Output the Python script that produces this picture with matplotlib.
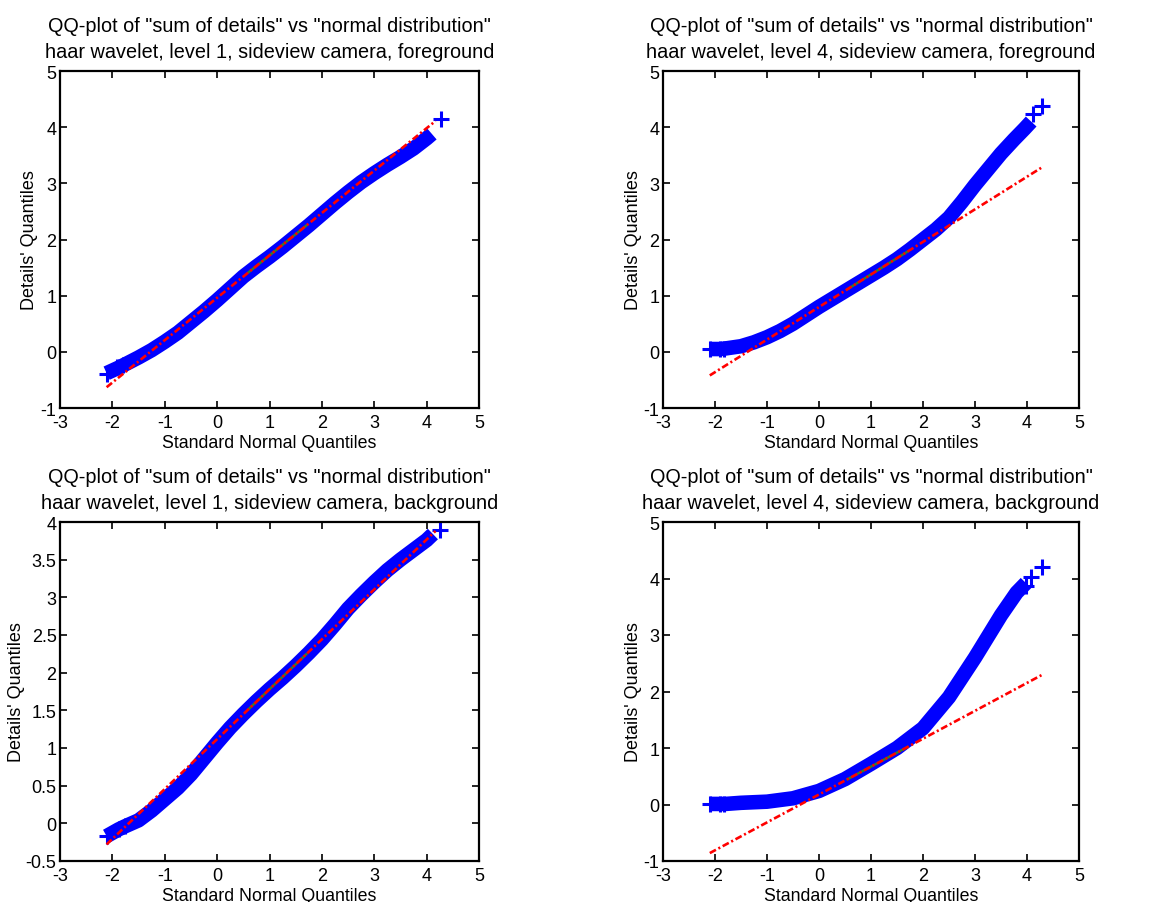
import matplotlib
matplotlib.use("Agg")
import matplotlib.pyplot as plt

plt.rcParams['font.family'] = ['Liberation Sans', 'DejaVu Sans']
plt.rcParams['lines.scale_dashes'] = False

# ---- data ----
# panel A: level 1, foreground
a_x = [-2.11, -1.9, -1.75, -1.5, -1.25, -1.0, -0.75, -0.5, -0.25, 0.0, 0.25, 0.5, 0.75, 1.0,
       1.25, 1.5, 1.75, 2.0, 2.25, 2.5, 2.75, 3.0, 3.25, 3.5, 3.75, 4.0, 4.1]
a_y = [-0.38, -0.29, -0.22, -0.1, 0.03, 0.18, 0.34, 0.53, 0.72, 0.92, 1.13, 1.34, 1.52, 1.69,
       1.87, 2.06, 2.25, 2.45, 2.65, 2.84, 3.02, 3.18, 3.33, 3.47, 3.62, 3.8, 3.88]
a_px = [-2.11, -1.92, -1.79, 4.27]
a_py = [-0.39, -0.27, -0.24, 4.14]
a_line_x = [-2.11, 4.17]
a_line_y = [-0.63, 4.11]
a_q_x = [0.6, 1.7]

# panel B: level 4, foreground
b_x = [-2.1, -1.9, -1.8, -1.5, -1.25, -1.0, -0.75, -0.5, -0.25, 0.0, 0.25, 0.5, 0.75, 1.0,
       1.25, 1.5, 1.75, 2.0, 2.25, 2.5, 2.75, 3.0, 3.25, 3.5, 3.75, 3.95, 4.08]
b_y = [0.05, 0.05, 0.06, 0.1, 0.17, 0.26, 0.37, 0.5, 0.65, 0.8, 0.94, 1.08, 1.22, 1.36,
       1.5, 1.65, 1.82, 2.0, 2.18, 2.39, 2.67, 2.97, 3.25, 3.53, 3.78, 3.97, 4.1]
b_px = [-2.1, -1.91, -1.83, 4.12, 4.28]
b_py = [0.05, 0.05, 0.05, 4.23, 4.38]
b_line_x = [-2.1, 4.28]
b_line_y = [-0.42, 3.28]
b_q_x = [0.55, 1.7]

# panel C: level 1, background
c_x = [-2.11, -1.88, -1.76, -1.5, -1.25, -1.0, -0.75, -0.5, -0.25, 0.0, 0.25, 0.5, 0.75, 1.0,
       1.25, 1.5, 1.75, 2.0, 2.25, 2.5, 2.75, 3.0, 3.25, 3.5, 3.75, 4.0, 4.12]
c_y = [-0.17, -0.08, -0.04, 0.04, 0.17, 0.32, 0.47, 0.65, 0.86, 1.07, 1.27, 1.45, 1.62, 1.78,
       1.93, 2.09, 2.26, 2.44, 2.64, 2.85, 3.03, 3.2, 3.36, 3.5, 3.63, 3.76, 3.84]
c_px = [-2.11, -1.88, -1.76, 4.25]
c_py = [-0.17, -0.08, -0.04, 3.9]
c_line_x = [-2.11, 4.17]
c_line_y = [-0.28, 3.88]
c_q_x = [0.6, 1.7]

# panel D: level 4, background
d_x = [-2.1, -1.9, -1.8, -1.5, -1.0, -0.5, 0.0, 0.5, 1.0, 1.5, 2.0, 2.5, 3.0, 3.5, 3.8, 3.98]
d_y = [0.01, 0.01, 0.01, 0.03, 0.05, 0.11, 0.24, 0.45, 0.72, 1.0, 1.35, 1.9, 2.6, 3.35, 3.75, 3.92]
d_px = [-2.1, -1.91, -1.83, 3.98, 4.08, 4.28]
d_py = [0.01, 0.01, 0.01, 3.87, 4.02, 4.21]
d_line_x = [-2.1, 4.28]
d_line_y = [-0.86, 2.29]
d_q_x = [0.55, 1.7]

titles = [
    'QQ-plot of "sum of details" vs "normal distribution"\nhaar wavelet, level 1, sideview camera, foreground',
    'QQ-plot of "sum of details" vs "normal distribution"\nhaar wavelet, level 4, sideview camera, foreground',
    'QQ-plot of "sum of details" vs "normal distribution"\nhaar wavelet, level 1, sideview camera, background',
    'QQ-plot of "sum of details" vs "normal distribution"\nhaar wavelet, level 4, sideview camera, background',
]
x_ticks = [-3, -2, -1, 0, 1, 2, 3, 4, 5]
y_ticks_a = [-1, 0, 1, 2, 3, 4, 5]
y_ticks_c = [-0.5, 0, 0.5, 1, 1.5, 2, 2.5, 3, 3.5, 4]
y_tick_labels_c = ['-0.5', '0', '0.5', '1', '1.5', '2', '2.5', '3', '3.5', '4']

W, H = 1164, 903
fig = plt.figure(figsize=(W / 100, H / 100), dpi=100)

def rect(x0, x1, ytop, ybot):
    return [x0 / W, 1 - ybot / H, (x1 - x0) / W, (ybot - ytop) / H]

axes = [
    fig.add_axes(rect(60, 479, 72, 409)),
    fig.add_axes(rect(663, 1079, 72, 409)),
    fig.add_axes(rect(60, 479, 523, 862)),
    fig.add_axes(rect(663, 1079, 523, 862)),
]
ylabel_x = [-0.052, -0.050, -0.083, -0.050]

panels = [
    (a_x, a_y, a_px, a_py, a_line_x, a_line_y, a_q_x, (-1, 5), y_ticks_a, None),
    (b_x, b_y, b_px, b_py, b_line_x, b_line_y, b_q_x, (-1, 5), y_ticks_a, None),
    (c_x, c_y, c_px, c_py, c_line_x, c_line_y, c_q_x, (-0.5, 4), y_ticks_c, y_tick_labels_c),
    (d_x, d_y, d_px, d_py, d_line_x, d_line_y, d_q_x, (-1, 5), y_ticks_a, None),
]

blue = '#0000ff'
for ax, title, lxpos, (x, y, px, py, lx, ly, qx, ylim, yt, ytl) in zip(axes, titles, ylabel_x, panels):
    ax.plot(x, y, color=blue, lw=10.5, solid_capstyle='butt', solid_joinstyle='round', zorder=2)
    ax.plot(px, py, ls='none', marker='+', color=blue, ms=11, mew=2.2, zorder=2)
    slope = (ly[1] - ly[0]) / (lx[1] - lx[0])
    qy = [ly[0] + slope * (q - lx[0]) for q in qx]
    ax.plot(qx, qy, color='#2f7d2f', lw=1.8, zorder=3)
    ax.plot(lx, ly, color='#ff0000', lw=1.9, dashes=(5, 2, 1.5, 2), zorder=4)
    ax.set_xlim(-3, 5)
    ax.set_ylim(*ylim)
    ax.set_xticks(x_ticks)
    ax.set_xticklabels([str(t) for t in x_ticks])
    ax.set_yticks(yt)
    if ytl is not None:
        ax.set_yticklabels(ytl)
    else:
        ax.set_yticklabels([str(t) for t in yt])
    ax.tick_params(direction='in', top=True, right=True, length=5, width=1.2,
                   labelsize=13, pad=4.5)
    ax.tick_params(axis='y', pad=2.5)
    for s in ax.spines.values():
        s.set_linewidth(1.6)
    ax.set_title(title, fontsize=14.3, pad=10, linespacing=1.45)
    ax.set_xlabel('Standard Normal Quantiles', fontsize=12.8, labelpad=2)
    ax.set_ylabel("Details' Quantiles", fontsize=13)
    ax.yaxis.set_label_coords(lxpos, 0.5)

fig.savefig('out.png', dpi=100)
